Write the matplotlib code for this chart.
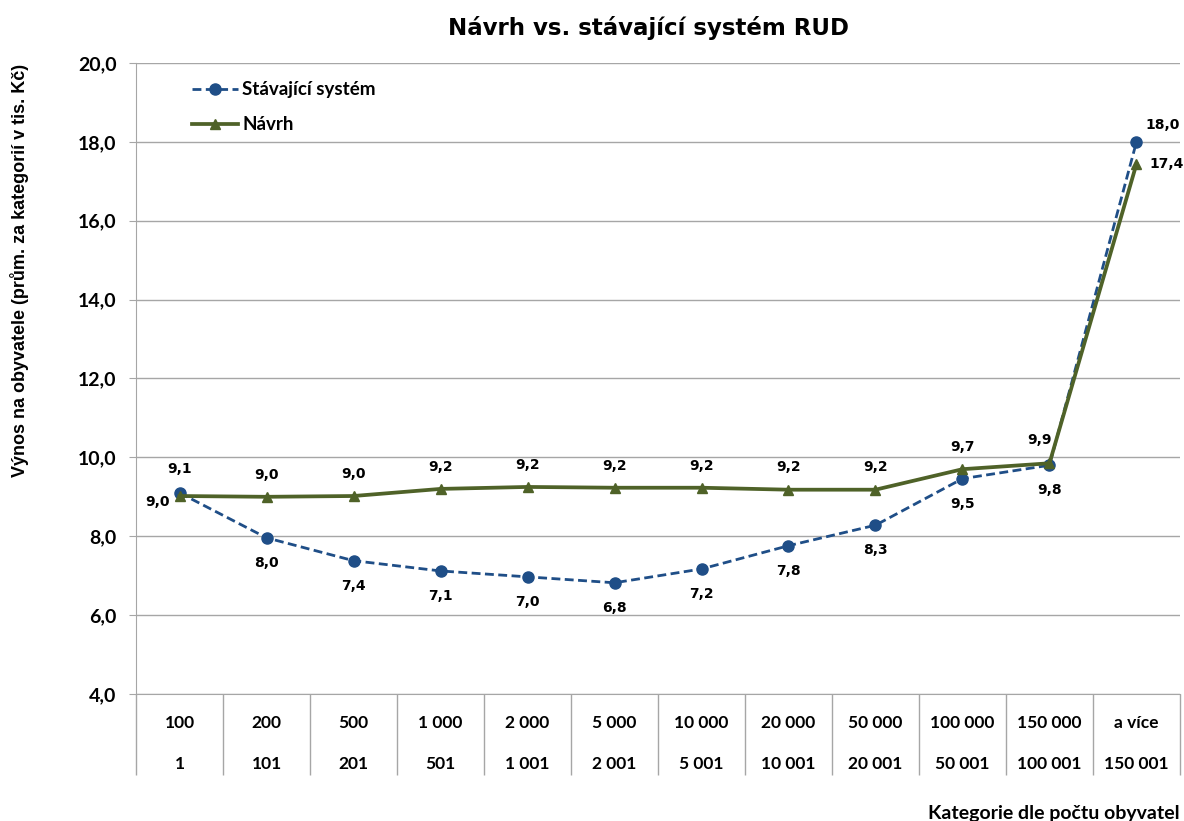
import matplotlib
matplotlib.use("Agg")
import matplotlib.pyplot as plt
from matplotlib.ticker import FixedLocator, FixedFormatter

categories_top = ["100", "200", "500", "1 000", "2 000", "5 000", "10 000",
                  "20 000", "50 000", "100 000", "150 000", "a více"]
categories_bottom = ["1", "101", "201", "501", "1 001", "2 001", "5 001",
                     "10 001", "20 001", "50 001", "100 001", "150 001"]
stavajici = [9.1, 7.96, 7.38, 7.12, 6.97, 6.82, 7.17, 7.76, 8.28, 9.46, 9.80, 18.0]
navrh = [9.02, 9.0, 9.02, 9.2, 9.25, 9.23, 9.23, 9.18, 9.18, 9.7, 9.85, 17.44]
stav_labels = ["9,1", "8,0", "7,4", "7,1", "7,0", "6,8", "7,2", "7,8", "8,3", "9,5", "9,8", "18,0"]
navrh_labels = ["9,0", "9,0", "9,0", "9,2", "9,2", "9,2", "9,2", "9,2", "9,2", "9,7", "9,9", "17,4"]

BLUE = "#1f4e87"
GREEN = "#4f6228"
GRID = "#a6a6a6"

fig = plt.figure(figsize=(11.84, 8.21), dpi=100)
ax = fig.add_axes([0.1149, 0.1547, 0.8817, 0.7686])

x = list(range(len(categories_top)))
ax.plot(x, stavajici, color=BLUE, linestyle=(0, (3.2, 1.6)), linewidth=2.0,
        marker="o", markersize=8, markerfacecolor=BLUE, markeredgecolor=BLUE,
        label="Stávající systém", zorder=3)
ax.plot(x, navrh, color=GREEN, linestyle="-", linewidth=2.7,
        marker="^", markersize=7, markerfacecolor=GREEN, markeredgecolor=GREEN,
        label="Návrh", zorder=4)

ax.set_xlim(-0.5, len(categories_top) - 0.5)
ax.set_ylim(4, 20)
ax.set_yticks([4, 6, 8, 10, 12, 14, 16, 18, 20])
ax.set_yticklabels(["4,0", "6,0", "8,0", "10,0", "12,0", "14,0", "16,0", "18,0", "20,0"],
                   fontfamily="Lato", fontweight="bold", fontsize=14)
ax.yaxis.grid(True, color=GRID, linewidth=1.0)
ax.set_axisbelow(True)
ax.tick_params(axis="y", direction="out", length=5, color=GRID, pad=9)

# x tick labels (two rows) and category separators
ax.xaxis.set_major_locator(FixedLocator(x))
ax.xaxis.set_major_formatter(FixedFormatter(
    [t + "\n" + b for t, b in zip(categories_top, categories_bottom)]))
ax.tick_params(axis="x", which="major", length=0, pad=15)
for lbl in ax.get_xticklabels():
    lbl.set_fontfamily("Lato")
    lbl.set_fontweight("bold")
    lbl.set_fontsize(12.5)
    lbl.set_linespacing(2.9)
ax.xaxis.set_minor_locator(FixedLocator([i - 0.5 for i in range(len(x) + 1)]))
ax.tick_params(axis="x", which="minor", direction="out", length=58, color=GRID, width=1.0)

for s in ["top", "right"]:
    ax.spines[s].set_visible(False)
ax.spines["left"].set_color(GRID)
ax.spines["bottom"].set_color(GRID)

# data labels
lab_kw = dict(textcoords="offset points", fontsize=10, fontweight="bold",
              fontfamily="DejaVu Sans", ha="center", va="center", color="black")
n = len(x)
for i in range(n):
    if i == 0:
        so, no = (0, 17), (-16, -4)
    elif i == n - 1:
        so, no = (19, 12), (21.5, 0)
    elif i == n - 2:
        so, no = (0, -18), (-7, 17)
    else:
        so, no = (0, -18), (0, 16)
    ax.annotate(stav_labels[i], (x[i], stavajici[i]), xytext=so, **lab_kw)
    ax.annotate(navrh_labels[i], (x[i], navrh[i]), xytext=no, **lab_kw)

leg = ax.legend(loc="upper left", bbox_to_anchor=(0.037, 0.998), frameon=False,
                handlelength=2.5, handletextpad=0.2, labelspacing=0.97,
                prop={"family": "Lato", "weight": "bold", "size": 13.5})

fig.text(20 / 1184, 0.670, "Výnos na obyvatele (prům. za kategorií v tis. Kč)",
         rotation=90, ha="center", va="center",
         fontfamily="Liberation Sans", fontweight="bold", fontsize=13)

fig.text(0.5473, 0.966, "Návrh vs. stávající systém RUD", ha="center", va="center",
         fontfamily="DejaVu Sans", fontweight="bold", fontsize=16.5)
fig.text(0.9966, 0.009, "Kategorie dle počtu obyvatel", ha="right", va="center",
         fontfamily="Lato", fontweight="bold", fontsize=14)

fig.savefig("out.png", dpi=100)
